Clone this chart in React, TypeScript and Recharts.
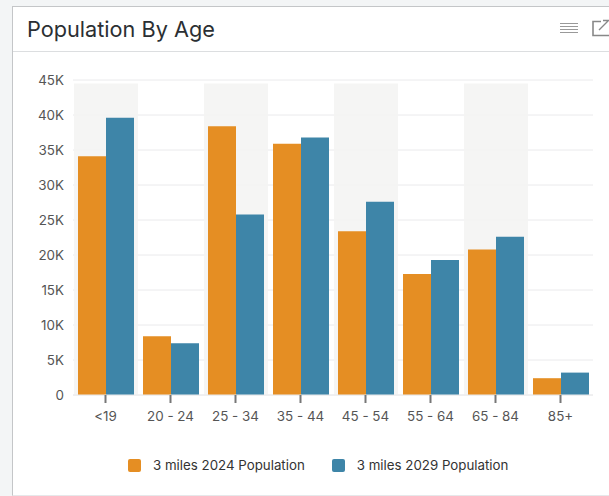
import { BarChart, Bar, CartesianGrid, Legend, XAxis, YAxis } from 'recharts';

const AGE_GROUPS = ['<19', '20 - 24', '25 - 34', '35 - 44', '45 - 54', '55 - 64', '65 - 84', '85+'];
const POP_2024 = [34100, 8400, 38400, 35900, 23400, 17300, 20800, 2400];
const POP_2029 = [39600, 7400, 25800, 36800, 27600, 19300, 22600, 3200];
// shaded columns behind every other age group
const BAND = [44500, null, 44500, null, 44500, null, 44500, null];
const Y_TICKS = [0, 5000, 10000, 15000, 20000, 25000, 30000, 35000, 40000, 45000];

const SERIES_2024 = '3 miles 2024 Population';
const SERIES_2029 = '3 miles 2029 Population';
const ORANGE = '#e58e23';
const BLUE = '#3e85a8';
const FONT = 'Inter, sans-serif';

const rows = AGE_GROUPS.map((age, i) => ({
  age,
  pop2024: POP_2024[i],
  pop2029: POP_2029[i],
  band: BAND[i],
}));

const formatK = (v: number) => (v === 0 ? '0' : `${v / 1000}K`);

// tick mark and label drawn together so the mark sits right under the axis
function AgeTick({ x, y, payload }: any) {
  return (
    <g>
      <line x1={x} x2={x} y1={y} y2={y + 8} stroke="#777" strokeWidth={2} />
      <text x={x} y={y + 26} textAnchor="middle" fill="#555" fontSize={13.4} fontFamily={FONT}>
        {payload.value}
      </text>
    </g>
  );
}

function LegendRow({ payload }: any) {
  const items = (payload ?? []).filter((p: any) => p.value !== 'band');
  return (
    <div style={{ display: 'flex', gap: 27, fontFamily: FONT, fontSize: 13.3, color: '#333', alignItems: 'center', height: 40 }}>
      {items.map((p: any) => (
        <div key={p.value} style={{ display: 'flex', alignItems: 'center', gap: 12 }}>
          <span style={{ width: 13, height: 13, borderRadius: 2, background: p.color, display: 'block' }} />
          <span>{p.value}</span>
        </div>
      ))}
    </div>
  );
}

function HeaderIcons() {
  return (
    <svg width={60} height={24} style={{ position: 'absolute', left: 549, top: 18 }}>
      <g stroke="#999" strokeWidth={1} shapeRendering="crispEdges">
        <path d="M11 5.5h18M11 8.5h18M11 11.5h18M11 14.5h18" />
      </g>
      <path d="M52 3.5h-8v14h16" fill="none" stroke="#888" strokeWidth={1.6} />
      <path d="M50 12l9-9M54 2.5h6" fill="none" stroke="#888" strokeWidth={1.4} />
    </svg>
  );
}

export default function App() {
  return (
    <div style={{ position: 'absolute', left: 0, top: 0, width: 609, height: 496, overflow: 'hidden', background: '#f3f5f6' }}>
      <div
        style={{
          position: 'absolute',
          left: 12,
          top: 6,
          width: 620,
          height: 488,
          background: '#fff',
          borderLeft: '1.5px solid #c4c6c8',
          borderTop: '1.5px solid #c4c6c8',
          borderBottom: '1px solid #e6e8ea',
        }}
      />
      <div
        style={{
          position: 'absolute',
          left: 27,
          top: 15,
          fontFamily: FONT,
          fontSize: 21.7,
          lineHeight: '29px',
          color: '#2b2f33',
        }}
      >
        Population By Age
      </div>
      <div style={{ position: 'absolute', left: 13, top: 51, width: 596, height: 1, background: '#dcdee0' }} />
      <HeaderIcons />
      <div style={{ position: 'absolute', left: 0, top: 0 }}>
        <BarChart
          width={609}
          height={496}
          data={rows}
          barCategoryGap={5}
          barGap={0}
          margin={{ top: 80, right: 16, bottom: 31, left: 12.5 }}
        >
          <CartesianGrid vertical={false} stroke="#eaeaec" />
          <XAxis
            dataKey="age"
            height={30}
            interval={0}
            tickSize={0}
            tickMargin={0}
            tickLine={false}
            axisLine={{ stroke: '#eaeaec' }}
            tick={<AgeTick />}
          />
          <YAxis
            width={60.5}
            domain={[0, 45000]}
            ticks={Y_TICKS}
            tickFormatter={formatK}
            tickMargin={3}
            tickLine={false}
            axisLine={false}
            tick={{ fill: '#555', fontSize: 13.4, fontFamily: FONT }}
          />
          <XAxis xAxisId="shade" dataKey="age" hide />
          <YAxis yAxisId="shade" domain={[0, 45000]} hide />
          <Bar
            dataKey="band"
            name="band"
            xAxisId="shade"
            yAxisId="shade"
            barSize={64}
            fill="#f3f3f2"
            fillOpacity={0.85}
            legendType="none"
            isAnimationActive={false}
          />
          <Bar dataKey="pop2024" name={SERIES_2024} fill={ORANGE} isAnimationActive={false} />
          <Bar dataKey="pop2029" name={SERIES_2029} fill={BLUE} isAnimationActive={false} />
          <Legend
            verticalAlign="bottom"
            height={40}
            content={<LegendRow />}
            wrapperStyle={{ left: 128, bottom: 11, width: 420 }}
          />
        </BarChart>
      </div>
    </div>
  );
}
